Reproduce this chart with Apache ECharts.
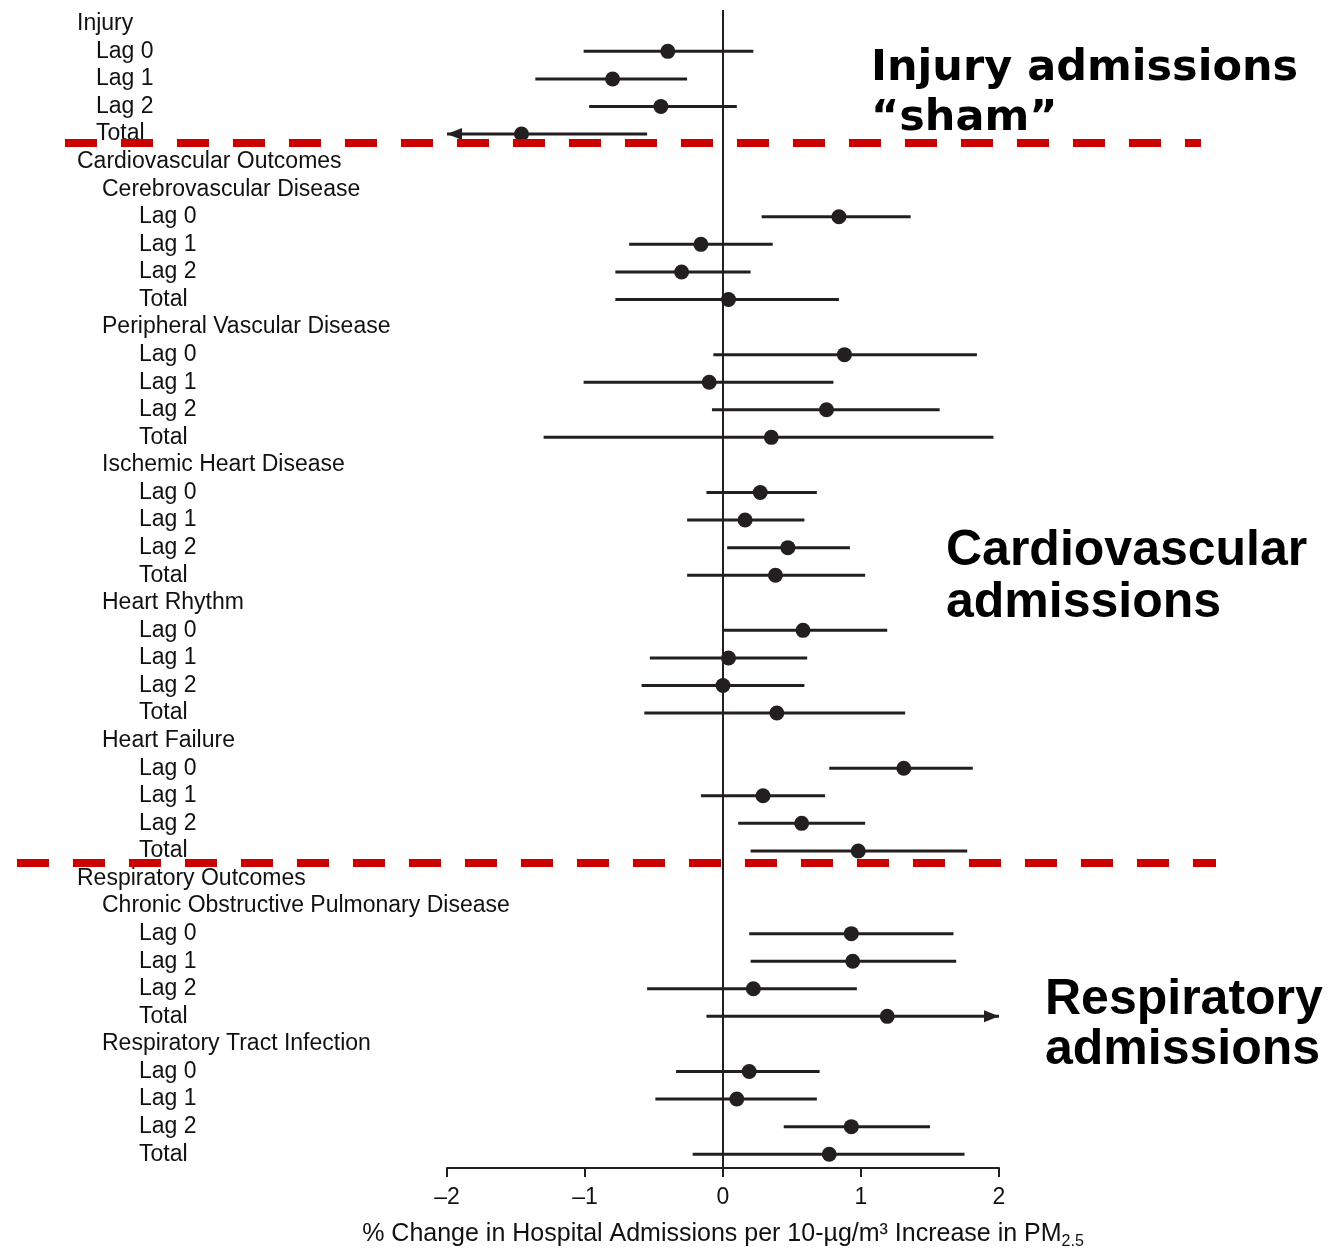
<!DOCTYPE html>
<html>
<head>
<meta charset="utf-8">
<script src="https://cdn.jsdelivr.net/npm/echarts@6/dist/echarts.min.js"></script>
<style>
html, body { margin: 0; padding: 0; background: #fff; }
#main { width: 1330px; height: 1249px; }
</style>
</head>
<body>
<div id="main"></div>
<script>
//行标签
var labels = ['Injury', 'Lag 0', 'Lag 1', 'Lag 2', 'Total',
	'Cardiovascular Outcomes',
	'Cerebrovascular Disease', 'Lag 0', 'Lag 1', 'Lag 2', 'Total',
	'Peripheral Vascular Disease', 'Lag 0', 'Lag 1', 'Lag 2', 'Total',
	'Ischemic Heart Disease', 'Lag 0', 'Lag 1', 'Lag 2', 'Total',
	'Heart Rhythm', 'Lag 0', 'Lag 1', 'Lag 2', 'Total',
	'Heart Failure', 'Lag 0', 'Lag 1', 'Lag 2', 'Total',
	'Respiratory Outcomes',
	'Chronic Obstructive Pulmonary Disease', 'Lag 0', 'Lag 1', 'Lag 2', 'Total',
	'Respiratory Tract Infection', 'Lag 0', 'Lag 1', 'Lag 2', 'Total'];
//层级 0=大类 1=injury子项 2=疾病 3=疾病子项
var levels = [0, 1, 1, 1, 1,
	0,
	2, 3, 3, 3, 3,
	2, 3, 3, 3, 3,
	2, 3, 3, 3, 3,
	2, 3, 3, 3, 3,
	2, 3, 3, 3, 3,
	0,
	2, 3, 3, 3, 3,
	2, 3, 3, 3, 3];
//估计值
var est = [null, -0.40, -0.80, -0.45, -1.46,
	null,
	null, 0.84, -0.16, -0.30, 0.04,
	null, 0.88, -0.10, 0.75, 0.35,
	null, 0.27, 0.16, 0.47, 0.38,
	null, 0.58, 0.04, 0.00, 0.39,
	null, 1.31, 0.29, 0.57, 0.98,
	null,
	null, 0.93, 0.94, 0.22, 1.19,
	null, 0.19, 0.10, 0.93, 0.77];
//置信区间
var lower = [null, -1.01, -1.36, -0.97, -2.0,
	null,
	null, 0.28, -0.68, -0.78, -0.78,
	null, -0.07, -1.01, -0.08, -1.30,
	null, -0.12, -0.26, 0.03, -0.26,
	null, 0.00, -0.53, -0.59, -0.57,
	null, 0.77, -0.16, 0.11, 0.20,
	null,
	null, 0.19, 0.20, -0.55, -0.12,
	null, -0.34, -0.49, 0.44, -0.22];
var upper = [null, 0.22, -0.26, 0.10, -0.55,
	null,
	null, 1.36, 0.36, 0.20, 0.84,
	null, 1.84, 0.80, 1.57, 1.96,
	null, 0.68, 0.59, 0.92, 1.03,
	null, 1.19, 0.61, 0.59, 1.32,
	null, 1.81, 0.74, 1.03, 1.77,
	null,
	null, 1.67, 1.69, 0.97, 2.0,
	null, 0.70, 0.68, 1.50, 1.75];

var xMin = -2, xMax = 2;
var ink = '#231f20';
var labelFont = '"Liberation Sans", Arial, sans-serif';

var ciData = [], pointData = [];
for(var i = 0; i < labels.length; i++) {
	if(est[i] != null) {
		ciData.push([lower[i], upper[i], i]);
		pointData.push([est[i], i]);
	}
}

function renderCI(params, api) {
	var lo = api.value(0);
	var hi = api.value(1);
	var row = api.value(2);
	var p1 = api.coord([lo, row]);
	var p2 = api.coord([hi, row]);
	var children = [{
		type: 'line',
		shape: { x1: p1[0], y1: p1[1], x2: p2[0], y2: p2[1] },
		style: { stroke: ink, lineWidth: 3 }
	}];
	//超出坐标范围画箭头
	if(lo <= xMin) {
		children.push({
			type: 'polygon',
			shape: { points: [[p1[0], p1[1]], [p1[0] + 15, p1[1] - 6], [p1[0] + 15, p1[1] + 6]] },
			style: { fill: ink }
		});
	}
	if(hi >= xMax) {
		children.push({
			type: 'polygon',
			shape: { points: [[p2[0], p2[1]], [p2[0] - 15, p2[1] - 6], [p2[0] - 15, p2[1] + 6]] },
			style: { fill: ink }
		});
	}
	return { type: 'group', children: children };
}

var myChart = echarts.init(document.getElementById('main'));
var option = {
	animation: false,
	backgroundColor: '#fff',
	grid: { left: 447, right: 331, top: 10, bottom: 81, outerBoundsMode: 'none' },
	xAxis: {
		type: 'value',
		min: xMin,
		max: xMax,
		interval: 1,
		splitLine: { show: false },
		axisLine: { show: true, onZero: false, lineStyle: { color: ink, width: 2 } },
		axisTick: { show: true, length: 9, lineStyle: { color: ink, width: 2 } },
		axisLabel: {
			color: '#111',
			fontSize: 23,
			fontFamily: labelFont,
			margin: 18,
			formatter: function(v) {
				return String(v).replace('-', '\u2013');
			}
		},
		name: '{a|% Change in Hospital Admissions per 10-\u00b5g/m\u00b3 Increase in PM}{s|2.5}',
		nameLocation: 'middle',
		nameGap: 50,
		nameTextStyle: {
			rich: {
				a: { fontSize: 25, fontFamily: labelFont, color: '#111', lineHeight: 32 },
				s: { fontSize: 16, fontFamily: labelFont, color: '#111', lineHeight: 32, verticalAlign: 'bottom', padding: [14, 0, 0, 0] }
			}
		}
	},
	yAxis: {
		type: 'category',
		inverse: true,
		data: labels,
		axisLine: { show: false },
		axisTick: { show: false },
		splitLine: { show: false },
		axisLabel: {
			interval: 0,
			align: 'left',
			margin: 370,
			formatter: function(value, index) {
				return '{l' + levels[index] + '|' + value + '}';
			},
			rich: {
				l0: { fontSize: 23, fontFamily: labelFont, color: '#111', padding: [0, 0, 0, 0] },
				l1: { fontSize: 23, fontFamily: labelFont, color: '#111', padding: [0, 0, 0, 19] },
				l2: { fontSize: 23, fontFamily: labelFont, color: '#111', padding: [0, 0, 0, 25] },
				l3: { fontSize: 23, fontFamily: labelFont, color: '#111', padding: [0, 0, 0, 62] }
			}
		}
	},
	series: [{
		type: 'custom',
		dimensions: ['lo', 'hi', 'row'],
		encode: { x: ['lo', 'hi'], y: 'row' },
		renderItem: renderCI,
		data: ciData,
		silent: true,
		z: 2
	}, {
		type: 'scatter',
		data: pointData,
		symbol: 'circle',
		symbolSize: 15,
		itemStyle: { color: ink, opacity: 1 },
		silent: true,
		z: 3,
		markLine: {
			silent: true,
			symbol: 'none',
			label: { show: false },
			lineStyle: { color: ink, width: 2, type: 'solid' },
			data: [{ xAxis: 0 }]
		}
	}],
	graphic: [{
		type: 'text',
		left: 871,
		top: 44,
		z: 50,
		style: { text: 'Injury admissions\n\u201csham\u201d', font: 'bold 43px "DejaVu Sans"', fill: '#000', lineHeight: 50 }
	}, {
		type: 'text',
		left: 946,
		top: 525,
		z: 50,
		style: { text: 'Cardiovascular\nadmissions', font: 'bold 50px "Liberation Sans"', fill: '#000', lineHeight: 52 }
	}, {
		type: 'text',
		left: 1045,
		top: 975,
		z: 50,
		style: { text: 'Respiratory\nadmissions', font: 'bold 50px "Liberation Sans"', fill: '#000', lineHeight: 50 }
	}, {
		type: 'line',
		z: 100,
		shape: { x1: 65, y1: 143, x2: 1201, y2: 143 },
		style: { stroke: '#cc0000', lineWidth: 8, lineDash: [32, 24] }
	}, {
		type: 'line',
		z: 100,
		shape: { x1: 17, y1: 863, x2: 1216, y2: 863 },
		style: { stroke: '#cc0000', lineWidth: 8, lineDash: [32, 24] }
	}]
};
myChart.setOption(option);
</script>
</body>
</html>
